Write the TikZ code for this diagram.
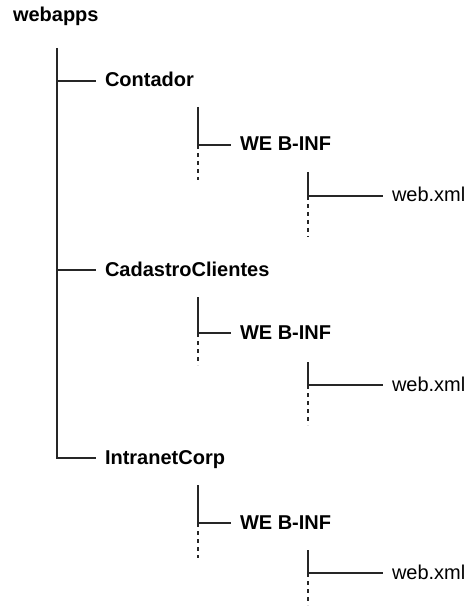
\documentclass[tikz,border=0pt]{standalone}
\usepackage{fontspec}
\setmainfont{Liberation Sans}

\tikzset{
  folder/.style={anchor=west, font=\fontsize{20}{24}\selectfont\bfseries, inner sep=0pt, outer xsep=9pt, text height=14pt, text depth=2pt},
  file/.style={folder, font=\fontsize{20}{24}\selectfont},
  branch/.style={line width=1.3pt, color=black!85},
  more/.style={branch, dash pattern=on 4pt off 4pt}
}

\begin{document}
\begin{tikzpicture}[x=1pt,y=-1pt]
  \useasboundingbox (0,0) rectangle (468,609);

  \node[folder] (webapps)	at (4,16)	{webapps};

  \node[folder] (contador)	at (96,81)	{Contador};
  \node[folder] (webinf-a)	at (231,145)	{WE B-INF};
  \node[file] (webxml-a)	at (383,196)	{web.xml};

  \node[folder] (cadastro)	at (96,270)	{CadastroClientes};
  \node[folder] (webinf-b)	at (231,333)	{WE B-INF};
  \node[file] (webxml-b)	at (383,385)	{web.xml};

  \node[folder] (intranet)	at (96,458)	{IntranetCorp};
  \node[folder] (webinf-c)	at (231,523)	{WE B-INF};
  \node[file] (webxml-c)	at (383,573)	{web.xml};

  \coordinate (trunk)	at (57,48);
  \coordinate (top-a)	at (198,107);
  \coordinate (top-b)	at (198,297);
  \coordinate (top-c)	at (198,485);
  \coordinate (sub-a)	at (308,172);
  \coordinate (sub-b)	at (308,362);
  \coordinate (sub-c)	at (308,550);
  \coordinate (end-a)	at (198,180);
  \coordinate (end-b)	at (198,365);
  \coordinate (end-c)	at (198,558);
  \coordinate (low-a)	at (308,237);
  \coordinate (low-b)	at (308,425);
  \coordinate (low-c)	at (308,605);

  \draw[branch] (trunk) |- (intranet.west);
  \draw[branch] (trunk |- contador.west) -- (contador.west);
  \draw[branch] (trunk |- cadastro.west) -- (cadastro.west);

  \draw[branch] (top-a) |- (webinf-a.west);
  \draw[branch] (top-b) |- (webinf-b.west);
  \draw[branch] (top-c) |- (webinf-c.west);
  \draw[branch] (sub-a) |- (webxml-a.west);
  \draw[branch] (sub-b) |- (webxml-b.west);
  \draw[branch] (sub-c) |- (webxml-c.west);

  \draw[more] (top-a |- webinf-a.west) -- (end-a);
  \draw[more] (top-b |- webinf-b.west) -- (end-b);
  \draw[more] (top-c |- webinf-c.west) -- (end-c);
  \draw[more] (sub-a |- webxml-a.west) -- (low-a);
  \draw[more] (sub-b |- webxml-b.west) -- (low-b);
  \draw[more] (sub-c |- webxml-c.west) -- (low-c);
\end{tikzpicture}
\end{document}
